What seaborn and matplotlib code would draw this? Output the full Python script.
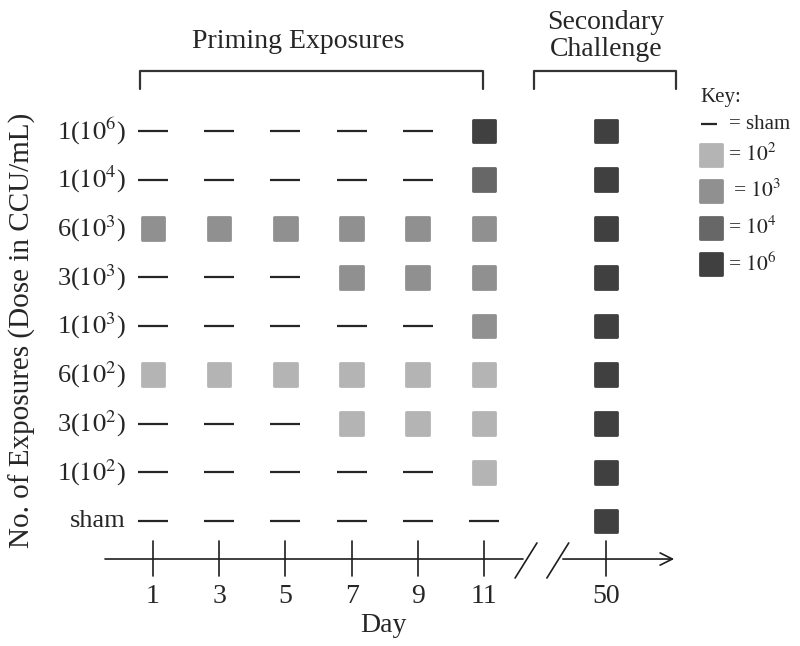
import numpy as np
import pandas as pd
import matplotlib
matplotlib.use("Agg")
import matplotlib.pyplot as plt
import seaborn as sns

# Datos del esquema
ROW_LABELS = ["1($10^{6}$)", "1($10^{4}$)", "6($10^{3}$)", "3($10^{3}$)", "1($10^{3}$)",
              "6($10^{2}$)", "3($10^{2}$)", "1($10^{2}$)", "sham"]
DAYS = [1, 3, 5, 7, 9, 11, 50]
# exponente de la dosis por (fila, dia); 0 = sham
DOSE = [
    [0, 0, 0, 0, 0, 6, 6],
    [0, 0, 0, 0, 0, 4, 6],
    [3, 3, 3, 3, 3, 3, 6],
    [0, 0, 0, 3, 3, 3, 6],
    [0, 0, 0, 0, 0, 3, 6],
    [2, 2, 2, 2, 2, 2, 6],
    [0, 0, 0, 2, 2, 2, 6],
    [0, 0, 0, 0, 0, 2, 6],
    [0, 0, 0, 0, 0, 0, 6],
]
KEY_DOSES = [2, 3, 4, 6]
KEY_LABELS = ["= $10^{2}$", " = $10^{3}$", "= $10^{4}$", "= $10^{6}$"]

PALETTE = {2: "#b4b4b4", 3: "#909090", 4: "#676767", 6: "#404040"}
SHAM_COLOR = "#262626"
LINE_COLOR = "#1e1e1e"
BREAK_GAP = 3.69  # distancia dibujada entre el dia 11 y el dia 50


def day_pos(d):
    return d if d <= 11 else 11 + BREAK_GAP


sns.set_theme(style="white")
plt.rcParams["font.family"] = ["Liberation Serif", "DejaVu Serif"]
plt.rcParams["mathtext.fontset"] = "stix"

records = []
for r, row in enumerate(DOSE):
    for d, dose in zip(DAYS, row):
        records.append({"row": r, "day": d, "x": day_pos(d), "dose": dose})
df = pd.DataFrame(records)

fig = plt.figure(figsize=(8, 6.46), dpi=100)
ax = fig.add_axes([0, 0, 1, 1])
ax.set_xlim(-3.622, 20.547)
ax.set_ylim(10.564, -2.687)
ax.axis("off")

# Cuadrados (exposiciones)
sq = df[df["dose"] > 0]
sns.scatterplot(data=sq, x="x", y="row", hue="dose", palette=PALETTE, marker="s",
                s=265, linewidth=2, legend=False, ax=ax)
coll = ax.collections[-1]
coll.set_edgecolor(coll.get_facecolor())
coll.set_joinstyle("round")

# Guiones (sham)
sh = df[df["dose"] == 0]
ax.plot(sh["x"], sh["row"], linestyle="none", marker="_", markersize=22,
        markeredgewidth=1.6, color=SHAM_COLOR)

# Etiquetas de filas
for r, lab in enumerate(ROW_LABELS):
    ax.text(0.18, r, lab, ha="right", va="center", fontsize=19)

ax.text(-2.96, 4.1, "No. of Exposures (Dose in CCU/mL)", rotation=90,
        ha="center", va="center", fontsize=21)

# Eje de tiempo con corte
axis_y = 8.78
ax.plot([-0.45, 12.18], [axis_y, axis_y], color=LINE_COLOR, lw=1.2)
ax.annotate("", xy=(16.83, axis_y), xytext=(13.30, axis_y),
            arrowprops=dict(arrowstyle="->", lw=1.2, color=LINE_COLOR, mutation_scale=22))
for x0 in [11.94, 12.90]:
    ax.plot([x0, x0 + 0.66], [9.17, 8.45], color=LINE_COLOR, lw=1.2)
for d in DAYS:
    p = day_pos(d)
    ax.plot([p, p], [8.41, 9.13], color=LINE_COLOR, lw=1.2)
    ax.text(p, 9.55, str(d), ha="center", va="center", fontsize=20)
ax.text(7.95, 10.15, "Day", ha="center", va="center", fontsize=20)

# Llaves superiores
for x0, x1 in [(0.61, 10.97), (12.51, 16.80)]:
    ax.plot([x0, x0, x1, x1], [-0.86, -1.23, -1.23, -0.86], color="#333333", lw=1.6)
ax.text(5.38, -1.83, "Priming Exposures", ha="center", va="center", fontsize=20)
ax.text(14.69, -1.95, "Secondary\nChallenge", ha="center", va="center",
        fontsize=20, linespacing=1.1)

# Clave
ax.text(17.53, -0.68, "Key:", ha="left", va="center", fontsize=15)
ax.plot([17.80], [-0.14], linestyle="none", marker="_", markersize=11.5,
        markeredgewidth=1.6, color=SHAM_COLOR)
ax.text(18.40, -0.14, "= sham", ha="left", va="center", fontsize=15)
key_rows = [0.49, 1.23, 1.99, 2.73]
sns.scatterplot(x=[17.86] * len(KEY_DOSES), y=key_rows, hue=KEY_DOSES, palette=PALETTE,
                marker="s", s=245, linewidth=2, legend=False, ax=ax)
coll = ax.collections[-1]
coll.set_edgecolor(coll.get_facecolor())
coll.set_joinstyle("round")
for yk, lab in zip(key_rows, KEY_LABELS):
    ax.text(18.38, yk, lab, ha="left", va="center", fontsize=15.5)

fig.savefig("out.png", dpi=100)
plt.close(fig)
